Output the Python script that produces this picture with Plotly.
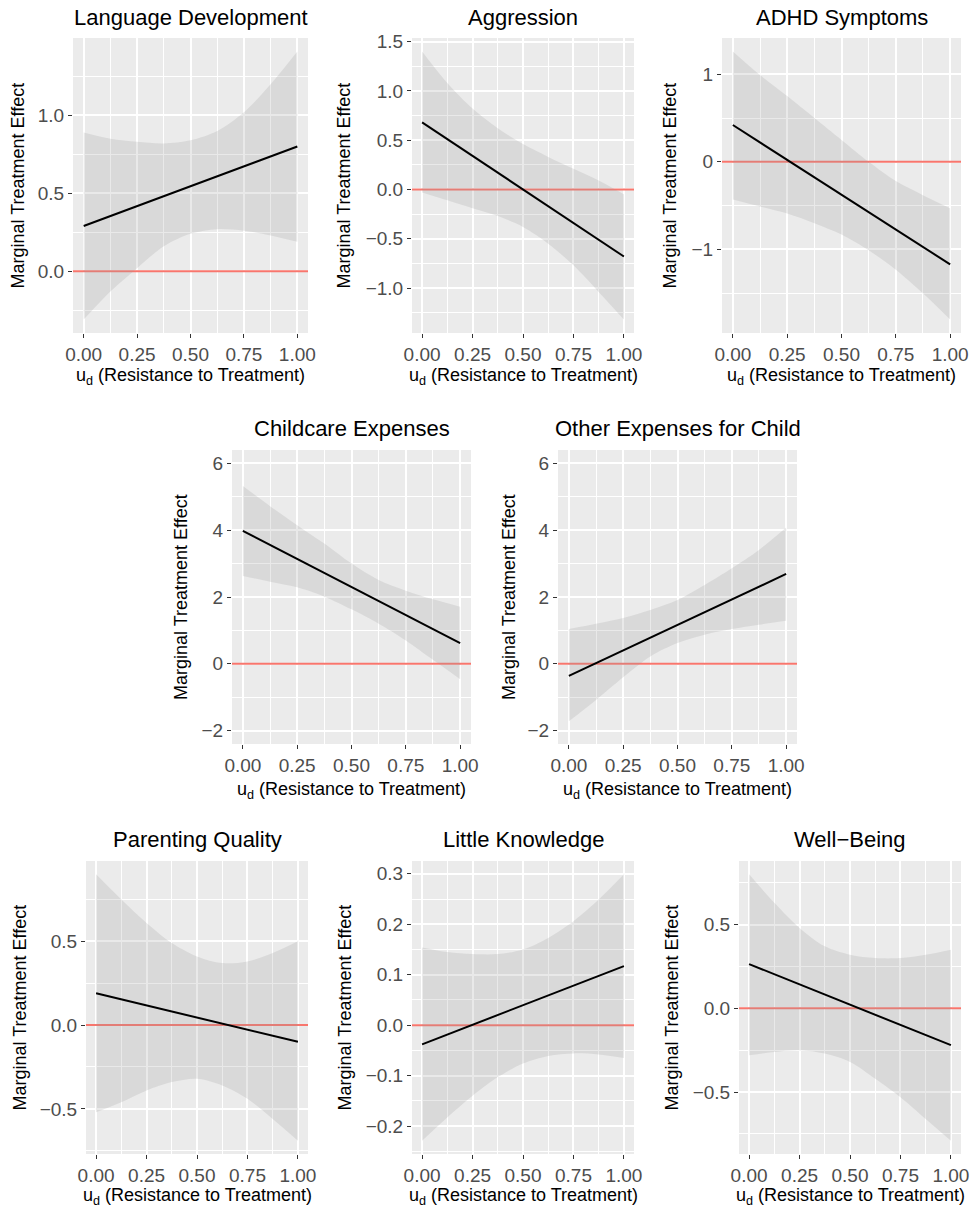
import plotly.graph_objects as go

W, H = 974, 1211

# ---------------- data ----------------
u_grid = [0, 0.125, 0.25, 0.375, 0.5, 0.625, 0.75, 0.875, 1.0]
line_u = [0.0, 1.0]
x_limits = [-0.05, 1.05]
zero_level = 0.0

titles = ["Language Development", "Aggression", "ADHD Symptoms",
          "Childcare Expenses", "Other Expenses for Child",
          "Parenting Quality", "Little Knowledge", "Well\u2212Being"]

mte_start = [0.29, 0.68, 0.42, 3.98, -0.36, 0.19, -0.038, 0.264]
mte_end = [0.80, -0.68, -1.17, 0.62, 2.69, -0.10, 0.117, -0.22]

lang_upper = [0.89, 0.85, 0.83, 0.82, 0.84, 0.90, 1.02, 1.20, 1.41]
lang_lower = [-0.31, -0.13, 0.02, 0.16, 0.24, 0.27, 0.26, 0.23, 0.19]
agg_upper = [1.40, 1.08, 0.82, 0.62, 0.46, 0.33, 0.21, 0.09, -0.05]
agg_lower = [-0.03, -0.11, -0.19, -0.27, -0.38, -0.55, -0.77, -1.04, -1.32]
adhd_upper = [1.26, 0.99, 0.75, 0.50, 0.25, 0.00, -0.22, -0.38, -0.53]
adhd_lower = [-0.43, -0.51, -0.59, -0.70, -0.83, -1.01, -1.23, -1.50, -1.80]
cc_upper = [5.32, 4.72, 4.15, 3.60, 3.00, 2.51, 2.19, 1.93, 1.71]
cc_lower = [2.63, 2.46, 2.29, 2.01, 1.63, 1.20, 0.70, 0.12, -0.46]
oe_upper = [1.04, 1.20, 1.37, 1.61, 1.91, 2.36, 2.86, 3.41, 4.08]
oe_lower = [-1.72, -1.08, -0.40, 0.22, 0.62, 0.87, 1.04, 1.17, 1.29]
pq_upper = [0.90, 0.75, 0.61, 0.49, 0.41, 0.37, 0.38, 0.43, 0.50]
pq_lower = [-0.52, -0.46, -0.39, -0.34, -0.32, -0.36, -0.44, -0.56, -0.69]
lk_upper = [0.154, 0.145, 0.141, 0.141, 0.150, 0.173, 0.206, 0.249, 0.299]
lk_lower = [-0.229, -0.183, -0.140, -0.103, -0.076, -0.061, -0.056, -0.058, -0.065]
wb_upper = [0.80, 0.63, 0.48, 0.37, 0.32, 0.30, 0.30, 0.32, 0.35]
wb_lower = [-0.28, -0.26, -0.25, -0.27, -0.32, -0.42, -0.53, -0.66, -0.79]

uppers = [lang_upper, agg_upper, adhd_upper, cc_upper, oe_upper, pq_upper, lk_upper, wb_upper]
lowers = [lang_lower, agg_lower, adhd_lower, cc_lower, oe_lower, pq_lower, lk_lower, wb_lower]

x_ticks = [0, 0.25, 0.5, 0.75, 1.0]
x_minor = [0.125, 0.375, 0.625, 0.875]
x_ticklabels = ["0.00", "0.25", "0.50", "0.75", "1.00"]
y_dticks = [0.5, 0.5, 1, 2, 2, 0.5, 0.1, 0.5]
y_formats = [".1f", ".1f", "d", "d", "d", ".1f", ".1f", ".1f"]
y_fixed_limits = [None, None, None, (-2, 6), (-2, 6), None, None, None]

# ---------------- layout geometry (pixels) ----------------
boxes = [(73, 38, 308, 333), (412, 38, 634, 333), (722, 38, 961, 333),
         (232, 450, 471, 744), (558, 450, 797, 744),
         (86, 861, 308, 1154), (412, 861, 634, 1154), (739, 861, 961, 1154)]
title_y = [18, 18, 18, 428, 428, 839, 839, 839]
xtitle_y = [376, 376, 376, 791, 791, 1196, 1196, 1196]
ytitle_x = [18, 344, 670, 181, 509, 19, 344, 671]

FONT = "Liberation Sans, Arial, sans-serif"
BG = "#EBEBEB"
RIBBON = "rgba(153,153,153,0.21)"
HLINE = "#F8766D"

fig = go.Figure()
annotations = []
layout = {}

for i in range(8):
    n = i + 1
    sx = "" if n == 1 else str(n)
    xa, ya = f"x{sx}", f"y{sx}"
    up, lo = uppers[i], lowers[i]

    # zero reference line (under ribbon)
    fig.add_trace(go.Scatter(
        x=x_limits, y=[zero_level, zero_level], mode="lines",
        line=dict(color=HLINE, width=2), hoverinfo="skip", showlegend=False,
        xaxis=xa, yaxis=ya))
    # ribbon: lower edge then upper edge filled to it
    fig.add_trace(go.Scatter(
        x=u_grid, y=lo, mode="lines", line=dict(width=0, shape="spline", smoothing=0.9),
        hoverinfo="skip", showlegend=False, xaxis=xa, yaxis=ya))
    fig.add_trace(go.Scatter(
        x=u_grid, y=up, mode="lines", line=dict(width=0, shape="spline", smoothing=0.9),
        fill="tonexty", fillcolor=RIBBON,
        hoverinfo="skip", showlegend=False, xaxis=xa, yaxis=ya))
    # MTE line
    fig.add_trace(go.Scatter(
        x=line_u, y=[mte_start[i], mte_end[i]], mode="lines",
        line=dict(color="black", width=2), showlegend=False, xaxis=xa, yaxis=ya))

    if y_fixed_limits[i] is not None:
        lo_l, hi_l = y_fixed_limits[i]
    else:
        lo_l = min(min(lo), min(up), zero_level, mte_start[i], mte_end[i])
        hi_l = max(max(lo), max(up), zero_level, mte_start[i], mte_end[i])
    pad = 0.05 * (hi_l - lo_l)
    yr = [lo_l - pad, hi_l + pad]

    L, T, R, B = boxes[i]
    common = dict(
        showline=False, zeroline=False, showgrid=True, gridcolor="white", gridwidth=1.8,
        ticks="outside", ticklen=4, tickwidth=1.3, tickcolor="#333333",
        tickfont=dict(family=FONT, size=19, color="#4D4D4D"),
        automargin=False,
    )
    layout[f"xaxis{sx}"] = dict(
        common, domain=[L / W, R / W], anchor=ya, range=x_limits,
        tickmode="array", tickvals=x_ticks, ticktext=x_ticklabels,
        minor=dict(tickmode="array", tickvals=x_minor, showgrid=True,
                   gridcolor="white", gridwidth=0.9, ticks=""),
    )
    dt = y_dticks[i]
    layout[f"yaxis{sx}"] = dict(
        common, domain=[1 - B / H, 1 - T / H], anchor=xa, range=yr,
        tick0=0, dtick=dt, tickformat=y_formats[i],
        minor=dict(tick0=dt / 2, dtick=dt, showgrid=True, gridcolor="white",
                   gridwidth=0.9, ticks=""),
    )

    cx = (L + R) / 2
    annotations.append(dict(text=titles[i], x=cx / W, y=1 - title_y[i] / H,
                            xref="paper", yref="paper", xanchor="center", yanchor="middle",
                            showarrow=False, font=dict(family=FONT, size=22, color="black")))
    annotations.append(dict(text="u<sub>d</sub> (Resistance to Treatment)",
                            x=cx / W, y=1 - xtitle_y[i] / H,
                            xref="paper", yref="paper", xanchor="center", yanchor="middle",
                            showarrow=False, font=dict(family=FONT, size=18, color="black")))
    annotations.append(dict(text="Marginal Treatment Effect", textangle=-90,
                            x=ytitle_x[i] / W, y=1 - ((T + B) / 2) / H,
                            xref="paper", yref="paper", xanchor="center", yanchor="middle",
                            showarrow=False, font=dict(family=FONT, size=18, color="black")))

fig.update_layout(
    width=W, height=H, margin=dict(l=0, r=0, t=0, b=0, autoexpand=False),
    paper_bgcolor="white", plot_bgcolor=BG, showlegend=False,
    annotations=annotations, **layout)

fig.write_html("out.html")
